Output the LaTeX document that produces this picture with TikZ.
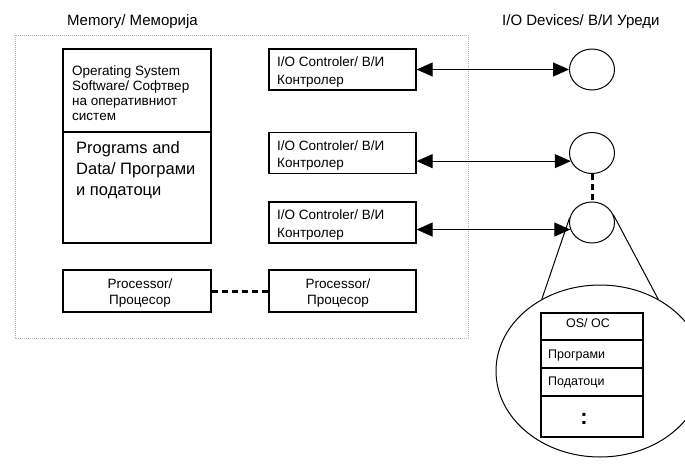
\documentclass[tikz,border=0pt]{standalone}
\usepackage{fontspec}
\setmainfont{Liberation Sans}
\usetikzlibrary{arrows.meta,shapes.geometric}
\begin{document}
\begin{tikzpicture}[x=1pt,y=-1pt,
  box/.style={draw, line width=1.2pt, inner sep=0pt, rectangle},
  dev/.style={draw, ellipse, line width=1pt, inner sep=0pt, minimum width=45pt, minimum height=41pt},
  txt/.style={anchor=base west, inner sep=0pt, font=\fontsize{13.5}{16}\selectfont},
  ctxt/.style={anchor=base, inner sep=0pt, font=\fontsize{13.5}{16}\selectfont},
  ptxt/.style={anchor=base west, inner sep=0pt, font=\fontsize{16.5}{20}\selectfont},
  lbl/.style={anchor=base west, inner sep=0pt, font=\fontsize{15}{18}\selectfont},
  ttxt/.style={anchor=base west, inner sep=0pt, font=\fontsize{12.5}{15}\selectfont},
  arr/.style={line width=1pt, {Triangle[length=16pt,width=14pt]}-{Triangle[length=16pt,width=14pt]}},
  thickdash/.style={line width=3pt, dash pattern=on 6pt off 4pt},
  membox/.style={gray!60, line width=1pt, dash pattern=on 1pt off 1pt}
]
\clip (0,0) rectangle (685,464);
\fill[white] (0,0) rectangle (685,464);

% labels
\node[lbl] (memlbl) at (67,25) {Memory/ Меморија};
\node[lbl] (devlbl) at (502,25) {I/O Devices/ В/И Уреди};

% memory dotted frame
\draw[membox] (15,35) rectangle (468,338);

% memory box
\node[box, minimum width=148pt, minimum height=83pt] (osbox) at (137,90.5) {};
\node[box, minimum width=148pt, minimum height=111pt] (progbox) at (137,187.5) {};
\node[txt] (os1) at (72,75) {Operating System};
\node[txt] (os2) at (72,90) {Software/ Софтвер};
\node[txt] (os3) at (72,105) {на оперативниот};
\node[txt] (os4) at (72,120) {систем};
\node[ptxt] (pd1) at (76,153) {Programs and};
\node[ptxt] (pd2) at (76,174) {Data/ Програми};
\node[ptxt] (pd3) at (76,195) {и податоци};

% I/O controllers
\foreach \i/\y in {1/69.5, 2/153, 3/222.5}{
  \node[box, minimum width=147pt, minimum height=41pt] (io\i) at (342.5,\y) {};
  \node[txt] (ioa\i) at (277,\y-3) {I/O Controler/ В/И};
  \node[txt] (iob\i) at (277,\y+14.5) {Контролер};
}

% processors
\node[box, minimum width=148pt, minimum height=42pt] (proc1) at (137,291) {};
\node[box, minimum width=147pt, minimum height=42pt] (proc2) at (342.5,291) {};
\node[ctxt] (pa1) at (140,288) {Processor/};
\node[ctxt] (pb1) at (140,304) {Процесор};
\node[ctxt] (pa2) at (338,288) {Processor/};
\node[ctxt] (pb2) at (338,304) {Процесор};
\draw[thickdash] (proc1.east) -- (proc2.west);

% devices
\node[dev] (dev1) at (592,69.5) {};
\node[dev] (dev2) at (592,153) {};
\node[dev] (dev3) at (592,222.5) {};
\draw[thickdash] (dev2.south) -- (dev3.north);

\draw[arr] (io1.east) -- (dev1.west);
\draw[arr] (io2.east |- dev2.201) -- (dev2.201);
\draw[arr] (io3.east |- dev3.198) -- (dev3.198);

% zoom
\node[draw, ellipse, line width=1pt, inner sep=0pt, minimum width=208pt, minimum height=172pt] (zoom) at (600,371) {};
\draw[line width=1pt] (dev3.168) -- (zoom.129);
\draw[line width=1pt] (dev3.20) -- (zoom.51);

\node[box, minimum width=102pt, minimum height=27pt] (r1) at (592,326.5) {};
\node[box, minimum width=102pt, minimum height=28pt] (r2) at (592,354) {};
\node[box, minimum width=102pt, minimum height=28pt] (r3) at (592,382) {};
\node[box, minimum width=102pt, minimum height=41pt] (r4) at (592,416.5) {};
\node[ttxt, anchor=base] (tos) at (588,327) {OS/ OC};
\node[ttxt] (tpr) at (548,358) {Програми};
\node[ttxt] (tpd) at (548,385) {Податоци};
\node[anchor=base, inner sep=0pt, font=\fontsize{22}{22}\bfseries\selectfont] (tdots) at (584,424) {:};
\end{tikzpicture}
\end{document}
